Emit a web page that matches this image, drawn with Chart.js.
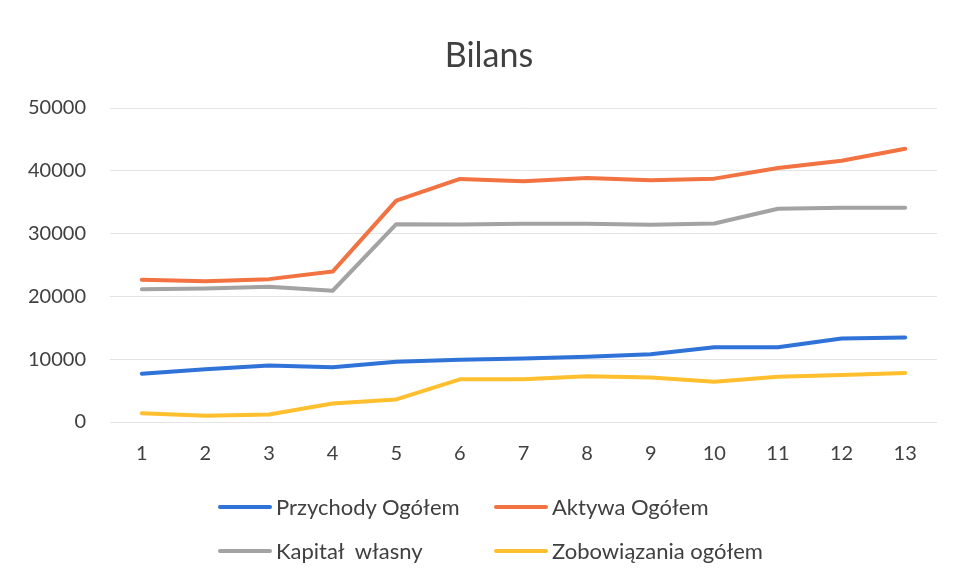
<!DOCTYPE html>
<html>
<head>
<meta charset="utf-8">
<title>Bilans</title>
<script src="https://cdn.jsdelivr.net/npm/chart.js@4"></script>
<style>
  body { margin: 0; background: #fff; }
  #wrap { position: relative; width: 956px; height: 580px; overflow: hidden; }
  #title {
    position: absolute; left: 0; top: 34px; width: 978px; text-align: center;
    font-family: Lato, sans-serif; font-size: 34px; line-height: 40px; color: #404040;
  }
  #legend {
    position: absolute; left: 218px; top: 494px;
    display: grid; grid-template-columns: 276px auto; row-gap: 19px;
    font-family: Lato, sans-serif; font-size: 22px; color: #404040;
  }
  .item { display: flex; align-items: center; height: 25px; white-space: pre; }
  .swatch { width: 54px; height: 4px; border-radius: 2px; margin-right: 4px; }
</style>
</head>
<body>
<div id="wrap">
  <canvas id="chart" width="956" height="580"></canvas>
  <div id="title">Bilans</div>
  <div id="legend"></div>
</div>
<script>
// data
const periods = ['1', '2', '3', '4', '5', '6', '7', '8', '9', '10', '11', '12', '13'];
const seriesNames = ['Przychody Ogółem', 'Aktywa Ogółem', 'Kapitał  własny', 'Zobowiązania ogółem'];
const seriesColors = ['#2f72d8', '#f27242', '#a3a3a3', '#ffbf2e'];

const przychody = [7700, 8400, 9000, 8700, 9600, 9900, 10100, 10400, 10800, 11900, 11900, 13300, 13450];
const aktywa = [22650, 22400, 22750, 23950, 35250, 38700, 38350, 38850, 38500, 38750, 40450, 41600, 43500];
const kapital = [21150, 21250, 21550, 20900, 31500, 31450, 31550, 31550, 31400, 31600, 33950, 34100, 34100];
const zobowiazania = [1400, 1000, 1200, 2950, 3600, 6800, 6800, 7300, 7100, 6400, 7200, 7500, 7800];

const yTicks = { min: 0, max: 50000, step: 10000 };

const values = [przychody, aktywa, kapital, zobowiazania];

const datasets = seriesNames.map((name, i) => ({
  label: name,
  data: values[i],
  borderColor: seriesColors[i],
  backgroundColor: seriesColors[i],
  borderWidth: 4,
  borderCapStyle: 'round',
  borderJoinStyle: 'round',
  pointRadius: 0,
  tension: 0
}));

new Chart(document.getElementById('chart'), {
  type: 'line',
  data: { labels: periods, datasets: datasets },
  options: {
    responsive: false,
    animation: false,
    // title and legend are html above the canvas, so leave room for them
    layout: { padding: { left: 0, right: 19, top: 108, bottom: 0 } },
    plugins: {
      legend: { display: false },
      tooltip: { enabled: false },
      title: { display: false }
    },
    scales: {
      x: {
        offset: true,
        grid: { display: false, drawTicks: false },
        border: { display: false },
        ticks: { color: '#404040', font: { family: 'Lato', size: 20 }, padding: 20 },
        afterFit: scale => { scale.height = 158; }
      },
      y: {
        min: yTicks.min,
        max: yTicks.max,
        grid: { color: '#e4e4e4', lineWidth: 1, drawTicks: false },
        border: { display: false },
        ticks: {
          stepSize: yTicks.step,
          color: '#404040',
          font: { family: 'Lato', size: 20 },
          padding: 24,
          callback: v => String(v)
        },
        afterFit: scale => { scale.width = 110; }
      }
    }
  }
});

// legend laid out as in the picture: two columns, two rows
const legend = document.getElementById('legend');
seriesNames.forEach((name, i) => {
  const item = document.createElement('div');
  item.className = 'item';
  item.innerHTML = `<span class="swatch" style="background:${seriesColors[i]}"></span><span>${name}</span>`;
  legend.appendChild(item);
});
</script>
</body>
</html>
